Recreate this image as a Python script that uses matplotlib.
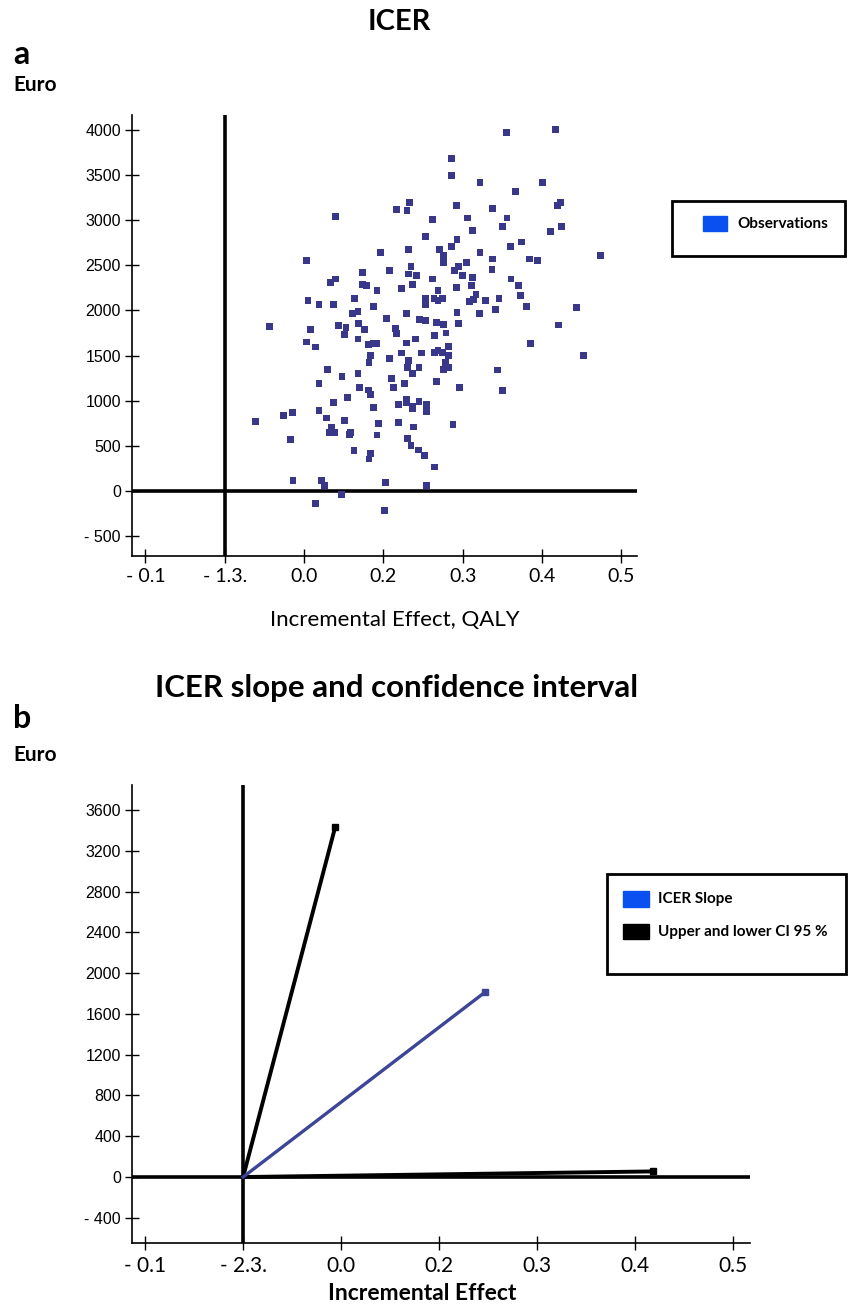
import matplotlib
matplotlib.use('Agg')
import matplotlib.pyplot as plt
from matplotlib.patches import Rectangle

# figure size in pixels
W, H = 848, 1307

# panel a: incremental effect (QALY) vs incremental cost (Euro)
obs_x = [0.355, 0.417, 0.286, 0.286, 0.322, 0.401, 0.367, 0.233, 0.217, 0.230,
         0.292, 0.338, 0.420, 0.423, 0.262, 0.306, 0.356, 0.350, 0.425, 0.312,
         0.411, 0.253, 0.293, 0.286, 0.360, 0.374, 0.196, 0.232, 0.271, 0.322,
         0.276, 0.276, 0.276, 0.338, 0.384, 0.394, 0.474, 0.235, 0.208, 0.232,
         0.242, 0.295, 0.305, 0.290, 0.300, 0.312, 0.337, 0.262, 0.361, 0.192,
         0.223, 0.237, 0.269, 0.292, 0.311, 0.371, 0.373, 0.253, 0.264, 0.269,
         0.275, 0.253, 0.309, 0.314, 0.317, 0.329, 0.346, 0.188, 0.229, 0.293,
         0.321, 0.342, 0.381, 0.444, 0.204, 0.246, 0.253, 0.267, 0.276, 0.295,
         0.421, 0.215,
         0.140, 0.103, 0.174, 0.133, 0.140, 0.174, 0.179, 0.105, 0.119, 0.137,
         0.164, 0.161, 0.168, 0.056, 0.108, 0.143, 0.153, 0.169, 0.176,
         0.103, 0.114, 0.151, 0.168, 0.181, 0.188, 0.191, 0.184, 0.182, 0.130,
         0.119, 0.148, 0.168, 0.170, 0.181, 0.184, 0.137, 0.155, 0.188, 0.119,
         0.128, 0.074, 0.085, 0.039, 0.151, 0.135, 0.132, 0.138, 0.157, 0.159,
         0.194, 0.192, 0.083, 0.163, 0.184, 0.182, 0.086, 0.122, 0.126, 0.114,
         0.147,
         0.217, 0.229, 0.241, 0.265, 0.279, 0.386, 0.453, 0.223, 0.248, 0.265,
         0.269, 0.275, 0.282, 0.282, 0.208, 0.232, 0.278, 0.231, 0.245, 0.237,
         0.276, 0.282, 0.344, 0.210, 0.213, 0.227, 0.267, 0.296, 0.350, 0.219,
         0.229, 0.229, 0.237, 0.237, 0.245, 0.254, 0.254, 0.254, 0.219, 0.238,
         0.288, 0.231, 0.235, 0.244, 0.252, 0.265, 0.203, 0.254, 0.202]
obs_y = [3975, 4005, 3680, 3500, 3420, 3420, 3320, 3200, 3115, 3105,
         3165, 3130, 3165, 3200, 3005, 3025, 3025, 2935, 2935, 2890,
         2875, 2820, 2790, 2710, 2710, 2760, 2645, 2680, 2680, 2645,
         2615, 2575, 2535, 2570, 2570, 2550, 2605, 2490, 2440, 2405,
         2385, 2485, 2535, 2440, 2385, 2370, 2455, 2350, 2350, 2225,
         2240, 2290, 2225, 2255, 2275, 2275, 2165, 2130, 2130, 2115,
         2130, 2070, 2100, 2120, 2175, 2115, 2130, 2045, 1965, 1980,
         1965, 2015, 2045, 2035, 1915, 1900, 1885, 1870, 1845, 1855,
         1840, 1800,
         3040, 2550, 2420, 2310, 2350, 2290, 2275, 2115, 2070, 2070,
         2130, 1965, 1985, 1820, 1790, 1835, 1810, 1855, 1790,
         1650, 1595, 1735, 1685, 1620, 1630, 1635, 1505, 1420, 1345,
         1195, 1270, 1305, 1150, 1120, 1065, 985, 1035, 925, 895,
         810, 840, 870, 770, 785, 700, 650, 645, 625, 645,
         750, 620, 570, 450, 420, 355, 120, 120, 65, -135,
         -40,
         1745, 1640, 1685, 1720, 1750, 1630, 1505, 1530, 1530, 1535,
         1555, 1535, 1605, 1505, 1470, 1450, 1425, 1370, 1370, 1305,
         1345, 1370, 1340, 1250, 1145, 1190, 1210, 1150, 1110, 955,
         1010, 975, 915, 940, 990, 955, 925, 885, 760, 710,
         740, 585, 500, 455, 390, 265, 90, 65, -220]

xtick_pos = [-0.1, 0.0, 0.1, 0.2, 0.3, 0.4, 0.5]
xtick_a = ['- 0.1', '- 1.3.', '0.0', '0.2', '0.3', '0.4', '0.5']
ytick_a = [4000, 3500, 3000, 2500, 2000, 1500, 1000, 500, 0, -500]
ylab_a = ['4000', '3500', '3000', '2500', '2000', '1500', '1000', '500', '0', '- 500']

# panel b: ICER slope and 95% CI end points (lines start at the origin)
slope_x = [0.0, 0.247]
slope_y = [0, 1815]
upper_x = [0.0, 0.094]
upper_y = [0, 3435]
lower_x = [0.0, 0.418]
lower_y = [0, 55]

xtick_b = ['- 0.1', '- 2.3.', '0.0', '0.2', '0.3', '0.4', '0.5']
ytick_b = [3600, 3200, 2800, 2400, 2000, 1600, 1200, 800, 400, 0, -400]
ylab_b = ['3600', '3200', '2800', '2400', '2000', '1600', '1200', '800', '400', '0', '- 400']

DOT = '#393789'
SLOPE = '#3d4597'
PATCH_BLUE = '#0a50f0'
SANS = ['Lato', 'DejaVu Sans']
ARIAL = ['Liberation Sans', 'DejaVu Sans']


def px_box(l, t, r, b):
    return [l / W, 1 - b / H, (r - l) / W, (b - t) / H]


def fx(px):
    return px / W


def fy(py):
    return 1 - py / H


def style_axes(ax):
    for s in ['top', 'right']:
        ax.spines[s].set_visible(False)
    for s in ['left', 'bottom']:
        ax.spines[s].set_linewidth(1.2)
    ax.tick_params(direction='inout', length=10, width=1.0, colors='black')
    ax.tick_params(axis='y', pad=3)
    ax.tick_params(axis='x', pad=4)


fig = plt.figure(figsize=(W / 100, H / 100), dpi=100)

# ---- panel a
ax_a = fig.add_axes(px_box(132, 115, 637, 556))
ax_a.scatter(obs_x, obs_y, marker='s', s=24, color=DOT, edgecolors='none', zorder=3)
ax_a.axvline(0, color='black', lw=2.6, zorder=2)
ax_a.axhline(0, color='black', lw=2.6, zorder=2)
ax_a.set_xlim(-0.117, 0.52)
ax_a.set_ylim(-720, 4166)
ax_a.set_xticks(xtick_pos)
ax_a.set_xticklabels(xtick_a, fontsize=14, family=SANS)
ax_a.set_yticks(ytick_a)
ax_a.set_yticklabels(ylab_a, fontsize=11.5, family=ARIAL)
style_axes(ax_a)

fig.text(fx(399), fy(22), 'ICER', ha='center', va='center', fontsize=21,
         fontweight='bold', family=SANS)
fig.text(fx(13), fy(54), 'a', ha='left', va='center', fontsize=23,
         fontweight='bold', family=SANS)
fig.text(fx(13), fy(85), 'Euro', ha='left', va='center', fontsize=15,
         fontweight='bold', family=SANS)
fig.text(fx(395), fy(620), 'Incremental Effect, QALY', ha='center', va='center',
         fontsize=16, family=SANS)

# legend a
fig.add_artist(Rectangle((fx(672), fy(256)), fx(845) - fx(672), fy(201) - fy(256),
                         transform=fig.transFigure, fill=False, lw=2, edgecolor='black'))
fig.add_artist(Rectangle((fx(703), fy(231)), fx(727) - fx(703), fy(216) - fy(231),
                         transform=fig.transFigure, color=PATCH_BLUE))
fig.text(fx(737), fy(224), 'Observations', ha='left', va='center', fontsize=11,
         fontweight='bold', family=SANS)

# ---- panel b
ax_b = fig.add_axes(px_box(132, 785, 750, 1243))
ax_b.axvline(0, color='black', lw=2.6, zorder=2)
ax_b.axhline(0, color='black', lw=2.6, zorder=2)
ax_b.plot(upper_x, upper_y, color='black', lw=2.8, marker='s', markersize=5,
          markevery=[1], zorder=3)
ax_b.plot(lower_x, lower_y, color='black', lw=2.8, marker='s', markersize=5,
          markevery=[1], zorder=3)
ax_b.plot(slope_x, slope_y, color=SLOPE, lw=2.4, marker='s', markersize=5,
          markevery=[1], zorder=3)
ax_b.set_xlim(-0.1133, 0.517)
ax_b.set_ylim(-647, 3845)
ax_b.set_xticks(xtick_pos)
ax_b.set_xticklabels(xtick_b, fontsize=15, family=SANS)
ax_b.set_yticks(ytick_b)
ax_b.set_yticklabels(ylab_b, fontsize=11.5, family=ARIAL)
style_axes(ax_b)

fig.text(fx(397), fy(688), 'ICER slope and confidence interval', ha='center',
         va='center', fontsize=22.5, fontweight='bold', family=SANS)
fig.text(fx(13), fy(718), 'b', ha='left', va='center', fontsize=23,
         fontweight='bold', family=SANS)
fig.text(fx(13), fy(755), 'Euro', ha='left', va='center', fontsize=15,
         fontweight='bold', family=SANS)
fig.text(fx(422), fy(1294), 'Incremental Effect', ha='center', va='center',
         fontsize=16.5, fontweight='bold', family=SANS)

# legend b
fig.add_artist(Rectangle((fx(607), fy(974)), fx(846) - fx(607), fy(874) - fy(974),
                         transform=fig.transFigure, fill=False, lw=2, edgecolor='black'))
fig.add_artist(Rectangle((fx(623), fy(907)), fx(649) - fx(623), fy(891) - fy(907),
                         transform=fig.transFigure, color=PATCH_BLUE))
fig.add_artist(Rectangle((fx(623), fy(939)), fx(649) - fx(623), fy(924) - fy(939),
                         transform=fig.transFigure, color='black'))
fig.text(fx(658), fy(899), 'ICER Slope', ha='left', va='center', fontsize=11,
         fontweight='bold', family=SANS)
fig.text(fx(658), fy(932), 'Upper and lower CI 95 %', ha='left', va='center',
         fontsize=11, fontweight='bold', family=SANS)

fig.savefig('out.png', dpi=100)
